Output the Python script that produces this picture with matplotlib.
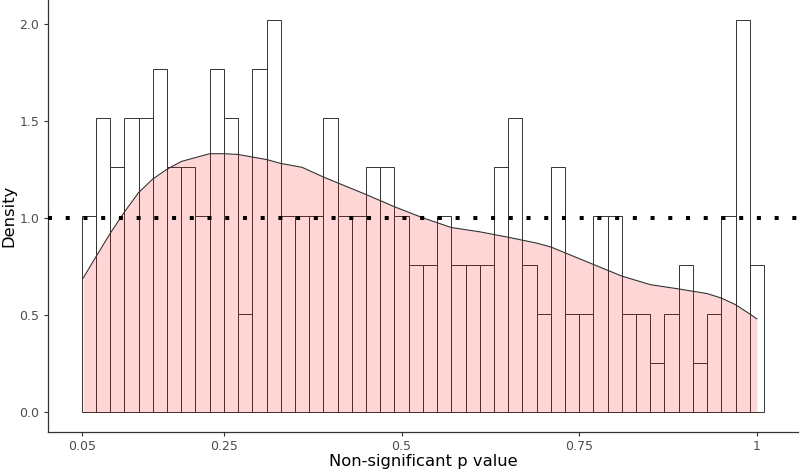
import numpy as np
import matplotlib.pyplot as plt

# histogram of non-significant p values (counts per bin)
bin_start = 0.05
bin_width = 0.02
counts = [4, 6, 5, 6, 6, 7, 5, 5, 4, 7, 6, 2, 7, 8, 4, 4,
          4, 6, 4, 4, 5, 5, 4, 3, 3, 4, 3, 3, 3, 5, 6, 3,
          2, 5, 2, 2, 4, 4, 2, 2, 1, 2, 3, 1, 2, 4, 8, 3]

# kernel density estimate
kde_x = [0.052, 0.07, 0.09, 0.11, 0.13, 0.15, 0.17, 0.19, 0.21, 0.23, 0.25, 0.27,
         0.31, 0.33, 0.36, 0.39, 0.41, 0.45, 0.49, 0.53, 0.57, 0.61, 0.65, 0.69,
         0.71, 0.73, 0.77, 0.79, 0.81, 0.85, 0.89, 0.93, 0.95, 0.97, 0.99, 1.0]
kde_y = [0.69, 0.80, 0.92, 1.03, 1.13, 1.20, 1.25, 1.29, 1.31, 1.33, 1.33, 1.326,
         1.30, 1.28, 1.26, 1.21, 1.18, 1.12, 1.057, 1.0, 0.95, 0.928, 0.90, 0.87,
         0.85, 0.82, 0.76, 0.73, 0.70, 0.656, 0.634, 0.61, 0.587, 0.553, 0.505, 0.48]

uniform_density = 1.0

x_ticks = [0.05, 0.25, 0.5, 0.75, 1.0]
x_labels = ['0.05', '0.25', '0.5', '0.75', '1']
y_ticks = [0.0, 0.5, 1.0, 1.5, 2.0]
y_labels = ['0.0', '0.5', '1.0', '1.5', '2.0']

plt.rcParams['font.family'] = ['DejaVu Sans']

counts = np.array(counts)
n_total = counts.sum()
dens = counts / (n_total * bin_width)
lefts = bin_start + bin_width * np.arange(len(counts))

fig = plt.figure(figsize=(8, 4.74), dpi=100)
ax = fig.add_axes([0.0596, 0.0892, 0.938, 0.9108])

ax.bar(lefts, dens, width=bin_width, align='edge', facecolor='white',
       edgecolor='#333333', linewidth=0.7, zorder=1)
ax.fill_between(kde_x, 0, kde_y, color='#ff0000', alpha=0.16, linewidth=0, zorder=2)
ax.plot(kde_x, kde_y, color='#333333', linewidth=0.8, zorder=3)
ax.axhline(uniform_density, color='black', linewidth=2.9,
           linestyle=(0, (1, 3.4)), dash_capstyle='butt', zorder=4)

x_lo, x_hi = bin_start, bin_start + bin_width * len(counts)
pad = 0.05 * (x_hi - x_lo)
ax.set_xlim(x_lo - pad, x_hi + pad)
ymax = dens.max()
ax.set_ylim(-0.05 * ymax, ymax * 1.05)

ax.set_xticks(x_ticks)
ax.set_xticklabels(x_labels)
ax.set_yticks(y_ticks)
ax.set_yticklabels(y_labels)
ax.tick_params(axis='both', length=3, width=0.8, color='#333333',
               labelcolor='#4d4d4d', labelsize=9, pad=3)

for s in ['top', 'right']:
    ax.spines[s].set_visible(False)
for s in ['left', 'bottom']:
    ax.spines[s].set_color('#333333')
    ax.spines[s].set_linewidth(0.9)

ax.set_xlabel('Non-significant p value', fontsize=11.8, color='black', labelpad=1)
ax.set_ylabel('Density', fontsize=11.8, color='black', labelpad=2)

fig.savefig('out.png', dpi=100)
